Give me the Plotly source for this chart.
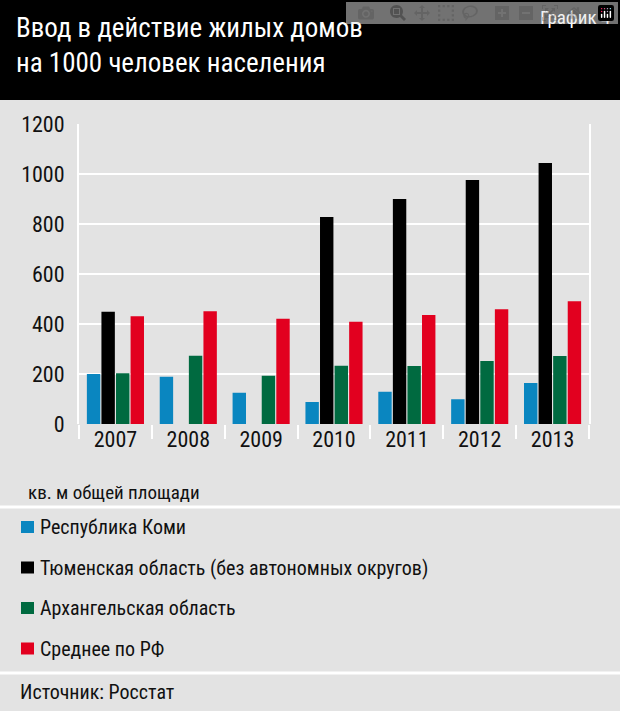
import plotly.graph_objects as go

years = ['2007', '2008', '2009', '2010', '2011', '2012', '2013']
series_names = ['Республика Коми', 'Тюменская область (без автономных округов)',
                'Архангельская область', 'Среднее по РФ']
komi = [200, 189, 125, 88, 129, 99, 164]
tyumen = [449, None, None, 828, 900, 976, 1044]
arkh = [203, 273, 193, 233, 232, 252, 272]
avg_rf = [431, 451, 421, 409, 436, 459, 491]
colors = ['#0a86c0', '#000000', '#006a40', '#e2001f']

W, H = 620, 711
L, R, T, B = 79, 589, 124, 424  # plot area in pixels
FONT = 'Liberation Sans Narrow, Roboto Condensed, Roboto, Arial'

fig = go.Figure()
for name, vals, c in zip(series_names, [komi, tyumen, arkh, avg_rf], colors):
    fig.add_trace(go.Bar(name=name, x=years, y=vals, marker_color=c,
                         marker_line_width=0, showlegend=False))

def ax(p):
    return (p - L) / (R - L)

def ay(p):
    return (B - p) / (B - T)

fig.update_layout(
    width=W, height=H, barmode='group', bargap=0.2, bargroupgap=0.08,
    paper_bgcolor='#e3e3e3', plot_bgcolor='#e3e3e3',
    margin=dict(l=L, r=W - R, t=T, b=H - B, pad=0),
    font=dict(family=FONT, size=21, color='#111'),
    xaxis=dict(showgrid=False, tickson='boundaries', ticks='outside', ticklen=14,
               tickcolor='white', tickwidth=2, showline=False, zeroline=False,
               tickfont=dict(size=22)),
    yaxis=dict(range=[0, 1200], dtick=200, gridcolor='white', gridwidth=2,
               showline=True, linecolor='white', linewidth=2, mirror=True,
               zeroline=False, ticks='', tickfont=dict(size=22), ticklabelstandoff=8),
)

# header band
fig.add_shape(type='rect', xref='paper', yref='paper', x0=ax(-5), x1=ax(W + 5),
              y0=ay(100), y1=ay(-5), fillcolor='black', line_width=0, layer='below')
fig.add_annotation(xref='paper', yref='paper', x=ax(14), y=ay(10), xanchor='left',
                   yanchor='top', align='left', showarrow=False,
                   text='Ввод в действие жилых домов<br>на 1000 человек населения',
                   font=dict(size=27, color='white'))
fig.add_annotation(xref='paper', yref='paper', x=ax(612), y=ay(4), xanchor='right',
                   yanchor='top', showarrow=False, text='График 4',
                   font=dict(size=19, color='white'))

fig.add_annotation(xref='paper', yref='paper', x=ax(26), y=ay(492), xanchor='left',
                   yanchor='middle', showarrow=False, text='кв. м общей площади',
                   font=dict(size=19))
for yp in (507, 673):
    fig.add_shape(type='line', xref='paper', yref='paper', x0=ax(0), x1=ax(W),
                  y0=ay(yp), y1=ay(yp), line=dict(color='white', width=3))

for i, (name, c) in enumerate(zip(series_names, colors)):
    yc = 527 + i * 40.5
    fig.add_shape(type='rect', xref='paper', yref='paper', x0=ax(21), x1=ax(34),
                  y0=ay(yc + 6), y1=ay(yc - 6), fillcolor=c, line_width=0)
    fig.add_annotation(xref='paper', yref='paper', x=ax(38), y=ay(yc), xanchor='left',
                       yanchor='middle', showarrow=False, text=name, font=dict(size=20))

fig.add_annotation(xref='paper', yref='paper', x=ax(18), y=ay(692), xanchor='left',
                   yanchor='middle', showarrow=False, text='Источник: Росстат',
                   font=dict(size=20))

fig.write_html('out.html', post_script="document.body.style.margin='0';")
